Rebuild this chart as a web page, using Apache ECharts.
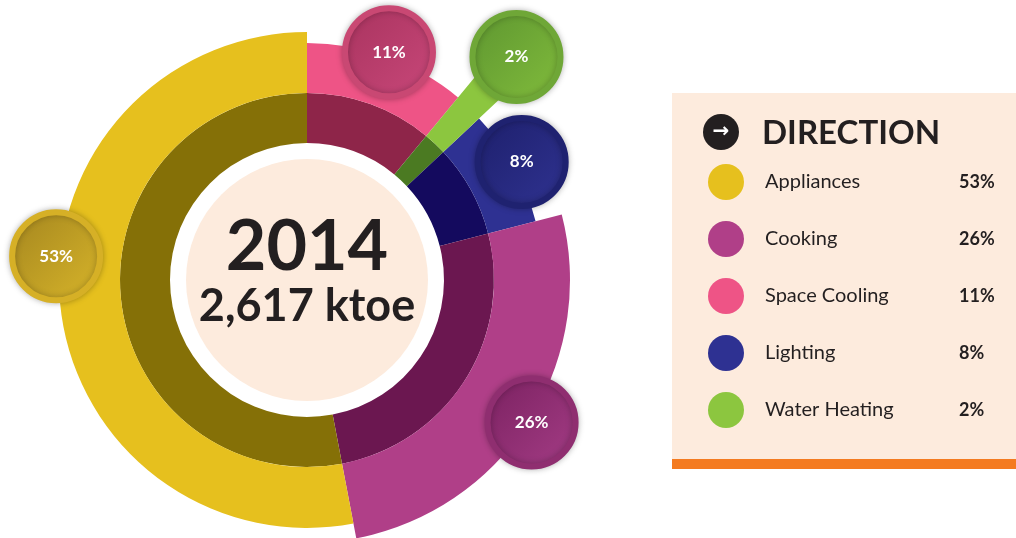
<!DOCTYPE html>
<html>
<head>
<meta charset="utf-8">
<script src="https://cdn.jsdelivr.net/npm/echarts@6/dist/echarts.min.js"></script>
<style>
  html, body { margin: 0; padding: 0; background: #fff; }
  #chart { width: 1016px; height: 538px; }
</style>
</head>
<body>
<div id="chart"></div>
<script>
// slices, clockwise from 12 o'clock
var categories = ["Space Cooling", "Water Heating", "Lighting", "Cooking", "Appliances"];
var shares = [11, 2, 8, 26, 53];
var legendOrder = ["Appliances", "Cooking", "Space Cooling", "Lighting", "Water Heating"];
var centerYear = "2014";
var centerTotal = "2,617 ktoe";
var legendTitle = "DIRECTION";

// look
var brightColor = {
  "Space Cooling": "#ee5486", "Water Heating": "#8cc63f", "Lighting": "#2e3192",
  "Cooking": "#b03f88", "Appliances": "#e6c01e"
};
var darkColor = {
  "Space Cooling": "#8e2549", "Water Heating": "#4b7a22", "Lighting": "#140a5e",
  "Cooking": "#6b1750", "Appliances": "#857007"
};
var bubbleColor = {
  "Space Cooling": ["#a8335e", "#c9487a", "#c94873"],
  "Water Heating": ["#5d9530", "#82bd3c", "#6fa737"],
  "Lighting": ["#1d1f6b", "#303392", "#1f2270"],
  "Cooking": ["#7a2160", "#a53d86", "#8f2e70"],
  "Appliances": ["#a3851f", "#d9b62a", "#d6b026"]
};
var outerRadius = {
  "Space Cooling": 237, "Water Heating": 290, "Lighting": 236, "Cooking": 263, "Appliances": 248
};
var bubbleRadius = {
  "Space Cooling": 242, "Water Heating": 306, "Lighting": 245, "Cooking": 266, "Appliances": 252
};
var bubbleShift = { "Appliances": 3 };
var center = [307, 280];
var textColor = "#231f20";

var chart = echarts.init(document.getElementById("chart"));

// one pie per slice so every slice can have its own outer radius
var slicePies = categories.map(function (name, i) {
  return {
    type: "pie",
    silent: true,
    center: center,
    radius: [187, outerRadius[name]],
    startAngle: 90,
    z: name === "Water Heating" ? 4 : 3,
    label: { show: false },
    labelLine: { show: false },
    itemStyle: { borderWidth: 0 },
    data: categories.map(function (n, j) {
      return {
        name: n,
        value: shares[j],
        itemStyle: { color: j === i ? brightColor[n] : "rgba(0,0,0,0)" }
      };
    })
  };
});

var cumulative = 0;
var bubbleData = categories.map(function (name, i) {
  var mid = cumulative + shares[i] / 2 + (bubbleShift[name] || 0);
  cumulative += shares[i];
  var c = bubbleColor[name];
  return {
    name: name,
    value: [bubbleRadius[name], mid],
    label: { formatter: shares[i] + "%" },
    itemStyle: {
      color: {
        type: "linear", x: 0, y: 0, x2: 1, y2: 1,
        colorStops: [{ offset: 0, color: c[0] }, { offset: 1, color: c[1] }]
      },
      borderColor: c[2],
      borderWidth: 6
    }
  };
});

var option = {
  animation: false,
  backgroundColor: "#fff",
  polar: { center: center, radius: 320 },
  angleAxis: { type: "value", min: 0, max: 100, startAngle: 90, clockwise: true, show: false },
  radiusAxis: { type: "value", min: 0, max: 320, show: false },
  graphic: [
    { type: "rect", z: -10, shape: { x: 672, y: 93, width: 344, height: 366 }, style: { fill: "#fdebdd" } },
    { type: "rect", z: -10, shape: { x: 672, y: 459, width: 344, height: 10 }, style: { fill: "#f47b20" } },
    { type: "circle", z: 5, shape: { cx: 721, cy: 132, r: 18 }, style: { fill: textColor } },
    {
      type: "text", z: 6, x: 721, y: 132,
      style: { text: "\u2192", fill: "#fff", font: "bold 20px DejaVu Sans", align: "center", verticalAlign: "middle" }
    }
  ],
  title: {
    text: legendTitle,
    left: 757,
    top: 112,
    textStyle: { fontFamily: "Lato", fontWeight: "bold", fontSize: 33, color: textColor }
  },
  legend: {
    orient: "vertical",
    left: 703,
    top: 159,
    itemWidth: 36,
    itemHeight: 36,
    itemGap: 21,
    icon: "circle",
    selectedMode: false,
    data: legendOrder.map(function (n) {
      return { name: n, itemStyle: { color: brightColor[n] } };
    }),
    formatter: function (name) {
      return "{n|" + name + "}{v|" + shares[categories.indexOf(name)] + "%}";
    },
    textStyle: {
      rich: {
        n: { fontFamily: "Lato", fontSize: 20, color: textColor, width: 194, padding: [0, 0, 0, 16] },
        v: { fontFamily: "Lato", fontWeight: "bold", fontSize: 18, color: textColor }
      }
    }
  },
  series: [
    {
      type: "pie",
      silent: true,
      center: center,
      radius: [0, 121],
      z: 1,
      label: {
        show: true,
        position: "center",
        formatter: "{a|" + centerYear + "}\n{b|" + centerTotal + "}",
        rich: {
          a: { fontFamily: "Lato", fontWeight: "bold", fontSize: 70, lineHeight: 52, color: textColor },
          b: { fontFamily: "Lato", fontWeight: "bold", fontSize: 45, lineHeight: 66, color: textColor }
        }
      },
      labelLine: { show: false },
      data: [{ name: centerYear, value: 1, itemStyle: { color: "#fdebdd" } }]
    },
    {
      type: "pie",
      silent: true,
      center: center,
      radius: [137, 187],
      startAngle: 90,
      z: 2,
      label: { show: false },
      labelLine: { show: false },
      data: categories.map(function (n, j) {
        return { name: n, value: shares[j], itemStyle: { color: darkColor[n] } };
      })
    }
  ].concat(slicePies).concat([
    {
      type: "scatter",
      coordinateSystem: "polar",
      silent: true,
      z: 10,
      symbol: "circle",
      symbolSize: 88,
      itemStyle: { opacity: 1, shadowBlur: 6, shadowColor: "rgba(0,0,0,0.25)" },
      label: {
        show: true,
        position: "inside",
        color: "#fff",
        fontFamily: "Lato",
        fontWeight: "bold",
        fontSize: 17
      },
      data: bubbleData
    }
  ])
};

chart.setOption(option);
</script>
</body>
</html>
